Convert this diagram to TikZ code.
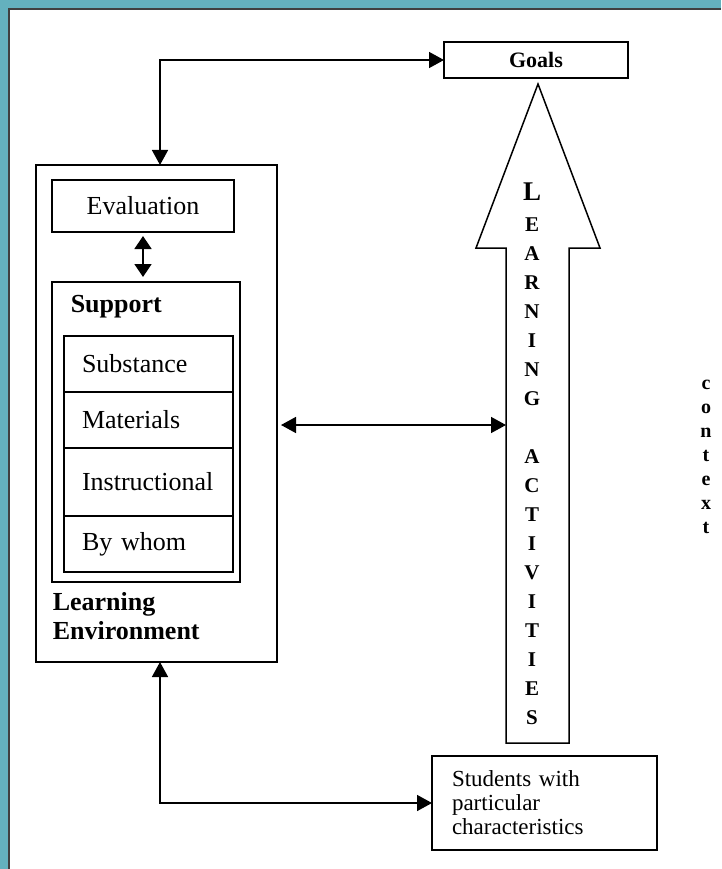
\documentclass[tikz,border=0pt]{standalone}
\usepackage{fontspec}
\setmainfont{Liberation Serif}
\usetikzlibrary{arrows.meta, positioning}
\definecolor{framecolor}{RGB}{100,177,190}
\tikzset{> = { Triangle[length = 15pt, width = 16pt] }}

\begin{document}
\begin{tikzpicture}[x = 1pt, y = -1pt, line width = 1.5pt,
		box/.style = { draw, rectangle, inner sep = 0pt, outer sep = 0pt, font = \fontsize{26}{29}\selectfont },
		item/.style = { box, minimum width = 169pt, minimum height = 56pt, text width = 133pt, align = left },
		heading/.style = { inner sep = 0pt, align = left, font = \fontsize{26}{29}\selectfont\bfseries },
		column/.style = { inner sep = 0pt, align = center, anchor = north }]
		\useasboundingbox (0,0) rectangle (721,869);
		\fill[framecolor] (0,0) rectangle (721,869);
		\fill[white] (9,9) rectangle (721,869);
		\draw[line width = 1.2pt, black!75] (9,869) -- (9,9) -- (721,9);

		\node [box, minimum width = 184pt, minimum height = 36pt, font = \fontsize{22}{24}\selectfont\bfseries] (goals) at (536,60) {Goals};

		\node [box, minimum width = 241pt, minimum height = 497pt] (environment) at (156.5,413.5) {};
		\node [box, minimum width = 182pt, minimum height = 52pt] (evaluation) at (143,206) {Evaluation};
		\node [box, minimum width = 188pt, minimum height = 300pt] (support) at (146,432) {};
		\node [heading, anchor = base west] (supporthead) at (70,312) {Support};

		\node [item, anchor = north]        (substance)     at (148.5,336) {Substance};
		\node [item, below = 0pt of substance]                     (materials)     {Materials};
		\node [item, below = 0pt of materials, minimum height = 68pt] (instructional) {Instructional};
		\node [item, below = 0pt of instructional]                 (bywhom)        {By whom};

		\node [heading, anchor = north west] (envhead) at (52,592) {Learning\\Environment};

		\node [box, minimum width = 225pt, minimum height = 94pt, text width = 185pt, align = left, font = \fontsize{23}{24}\selectfont] (students) at (544.5,803) {Students with\\particular\\characteristics};

		% big arrow of learning activities
		\draw (506,743) -- (506,248) -- (476,248) -- (538,84) -- (600,248) -- (569,248) -- (569,743) -- cycle;
		\node [column, font = \fontsize{21}{29}\selectfont\bfseries] (activities) at (532,182)
			{{\fontsize{27}{29}\selectfont L}\\[2pt]E\\A\\R\\N\\I\\N\\G\\[29pt]A\\C\\T\\I\\V\\I\\T\\I\\E\\S};

		\node [column, font = \fontsize{20}{24}\selectfont\bfseries] (context) at (706,379) {c\\o\\n\\t\\e\\x\\t};

		\coordinate (topturn) at (160,60);
		\coordinate (midlink) at (506,425);
		\coordinate (botturn) at (160,803);

		\draw[<->] (topturn |- environment.north) |- (goals.west);
		\draw[{Triangle[length = 13pt, width = 17pt]}-{Triangle[length = 13pt, width = 17pt]}, shorten < = 4pt, shorten > = 5pt] (evaluation.south) -- (evaluation.south |- support.north);
		\draw[<->, shorten < = 4pt] (environment.east |- midlink) -- (midlink);
		\draw[<->] (botturn |- environment.south) |- (students.west);
	\end{tikzpicture}
\end{document}
